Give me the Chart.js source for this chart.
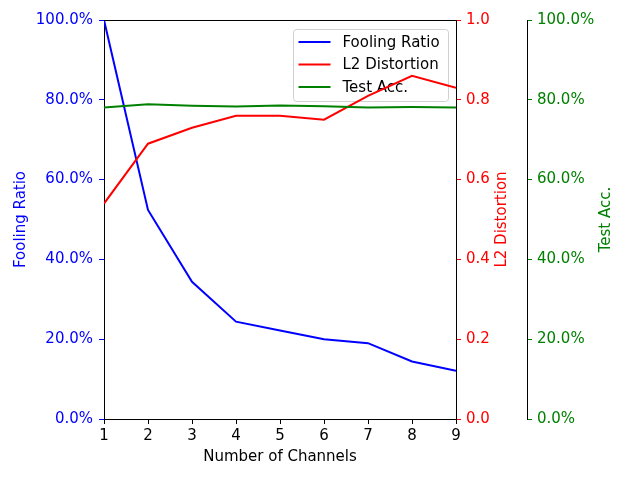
<!DOCTYPE html>
<html>
<head>
<meta charset="utf-8">
<script src="https://cdn.jsdelivr.net/npm/chart.js@4"></script>
<style>body{margin:0;background:#fff}canvas{display:block}</style>
</head>
<body>
<canvas id="c" width="640" height="480"></canvas>
<script>
const channels = [1, 2, 3, 4, 5, 6, 7, 8, 9];
const foolingRatio = [100, 52.4, 34.4, 24.4, 22.2, 20.0, 19.0, 14.4, 12.1];
const l2Distortion = [0.54, 0.69, 0.73, 0.76, 0.76, 0.75, 0.81, 0.86, 0.83];
const testAcc = [78.1, 78.9, 78.5, 78.3, 78.6, 78.4, 78.1, 78.2, 78.1];
const seriesNames = ['Fooling Ratio', 'L2 Distortion', 'Test Acc.'];
const xTitle = 'Number of Channels';

const BLUE = '#0000ff', RED = '#ff0000', GREEN = '#008000';
const FONT = 'DejaVu Sans';
const FS = 15;
Chart.defaults.font.family = FONT;
Chart.defaults.font.size = FS;

const toXY = arr => arr.map((v, i) => ({x: channels[i], y: v}));

const extras = {
  id: 'extras',
  beforeDatasetsDraw(chart) {
    const ctx = chart.ctx, a = chart.chartArea;
    const w = 155, h = 72;
    const x0 = Math.round(a.right - 7 - w) - 0.5, y0 = Math.round(a.top + 9) + 0.5;
    ctx.save();
    ctx.beginPath();
    ctx.roundRect(x0, y0, w, h, 3);
    ctx.fillStyle = 'rgba(255,255,255,0.8)';
    ctx.fill();
    ctx.strokeStyle = 'rgba(204,204,204,0.9)';
    ctx.lineWidth = 1;
    ctx.stroke();
    ctx.font = FS + 'px "' + FONT + '"';
    ctx.textBaseline = 'middle';
    ctx.textAlign = 'left';
    chart.data.datasets.forEach((ds, i) => {
      const yy = y0 + 12.5 + i * 22.5;
      ctx.beginPath();
      ctx.moveTo(x0 + 5, yy);
      ctx.lineTo(x0 + 37, yy);
      ctx.strokeStyle = ds.borderColor;
      ctx.lineWidth = 2;
      ctx.stroke();
      ctx.fillStyle = '#000';
      ctx.fillText(ds.label, x0 + 49, yy + 1);
    });
    ctx.restore();
  },
  afterDraw(chart) {
    const ctx = chart.ctx, a = chart.chartArea, s = chart.scales;
    ctx.save();
    ctx.beginPath();
    ctx.moveTo(a.left, Math.round(a.top) + 0.5);
    ctx.lineTo(a.right, Math.round(a.top) + 0.5);
    ctx.strokeStyle = '#000';
    ctx.lineWidth = 1;
    ctx.stroke();
    const cy = (a.top + a.bottom) / 2;
    const titles = [
      [seriesNames[0], s.y.left + 21, BLUE],
      [seriesNames[1], s.y1.left + 46, RED],
      [seriesNames[2], s.y2.left + 79, GREEN]
    ];
    ctx.font = FS + 'px "' + FONT + '"';
    ctx.textAlign = 'center';
    ctx.textBaseline = 'middle';
    titles.forEach(([t, x, c]) => {
      ctx.save();
      ctx.translate(x, cy);
      ctx.rotate(-Math.PI / 2);
      ctx.fillStyle = c;
      ctx.fillText(t, 0, 0);
      ctx.restore();
    });
    ctx.restore();
  }
};

const yAxis = (pos, color, min, max, step, cb, width, pad) => ({
  type: 'linear', position: pos, min, max,
  afterFit(sc) { sc.width = width; },
  grid: { drawOnChartArea: false, drawTicks: true, tickLength: 5, color: color, lineWidth: 1 },
  border: { display: true, color: '#000', width: 1 },
  ticks: { stepSize: step, color: color, padding: pad, callback: cb, font: { size: FS } },
  title: { display: false }
});

new Chart(document.getElementById('c'), {
  type: 'line',
  data: {
    datasets: [
      { label: seriesNames[0], data: toXY(foolingRatio), borderColor: BLUE, yAxisID: 'y', order: 3 },
      { label: seriesNames[1], data: toXY(l2Distortion), borderColor: RED, yAxisID: 'y1', order: 2 },
      { label: seriesNames[2], data: toXY(testAcc), borderColor: GREEN, yAxisID: 'y2', order: 1 }
    ]
  },
  options: {
    responsive: false,
    animation: false,
    devicePixelRatio: 1,
    layout: { padding: { top: 20, left: 0, right: 0, bottom: 0 } },
    elements: { line: { borderWidth: 2, tension: 0, fill: false }, point: { radius: 0 } },
    plugins: { legend: { display: false }, tooltip: { enabled: false } },
    scales: {
      x: {
        type: 'linear', min: 1, max: 9,
        afterFit(sc) { sc.height = 61; },
        grid: { drawOnChartArea: false, drawTicks: true, tickLength: 5, color: '#000' },
        border: { display: true, color: '#000', width: 1 },
        ticks: { stepSize: 1, color: '#000', padding: 3, font: { size: FS } },
        title: { display: true, text: xTitle, color: '#000', font: { size: FS }, padding: { top: 0, bottom: 14 } }
      },
      y: yAxis('left', BLUE, 0, 100, 20, v => v.toFixed(1) + '%', 104, 6),
      y1: yAxis('right', RED, 0, 1, 0.2, v => v.toFixed(1), 71, 5),
      y2: yAxis('right', GREEN, 0, 100, 20, v => v.toFixed(1) + '%', 113, 5)
    }
  },
  plugins: [extras]
});
</script>
</body>
</html>
